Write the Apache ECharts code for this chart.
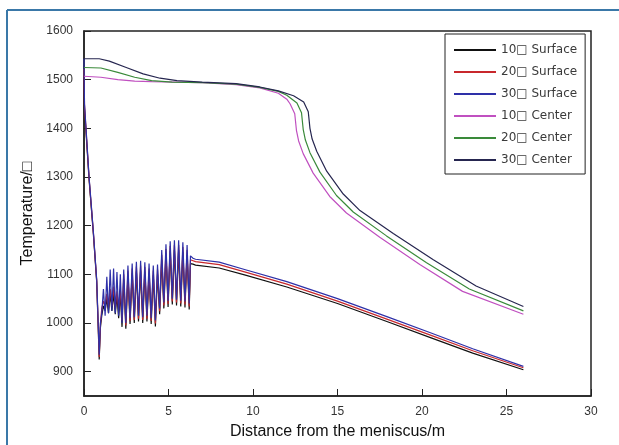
<!DOCTYPE html>
<html>
<head>
<meta charset="utf-8">
<script src="https://cdn.jsdelivr.net/npm/echarts@6/dist/echarts.min.js"></script>
<style>
    html, body { margin: 0; padding: 0; background: #fff; }
    #chart { width: 619px; height: 445px; }
</style>
</head>
<body>
<div id="chart"></div>
<script>
// legend names, same order as the series
const names = ['10\u25A1 Surface', '20\u25A1 Surface', '30\u25A1 Surface', '10\u25A1 Center', '20\u25A1 Center', '30\u25A1 Center']
const xTicks = [0, 5, 10, 15, 20, 25, 30]
const yTicks = [900, 1000, 1100, 1200, 1300, 1400, 1500, 1600]

// surface curves share the same distances
const surfX = [0, 0.03, 0.3, 0.55, 0.75, 0.85, 0.9, 0.97, 1.05,
    1.15, 1.25, 1.35, 1.45, 1.55, 1.65, 1.75, 1.85, 1.95, 2.05, 2.15, 2.25,
    2.35, 2.475, 2.6, 2.725, 2.85, 2.975, 3.1, 3.225, 3.35, 3.475, 3.6, 3.725, 3.85, 3.975, 4.1, 4.225,
    4.35, 4.475, 4.6, 4.725, 4.85, 4.975, 5.1, 5.225, 5.35, 5.475, 5.6, 5.725, 5.85, 5.975, 6.1, 6.225, 6.3,
    6.45, 6.6,
    8, 9.5, 12, 15, 18, 20.5, 23, 26]
const surf10 = [1505, 1440, 1295, 1185, 1085, 980, 925, 990, 1015,
    1035, 1025, 1050, 1020, 1060, 1025, 1060, 1018, 1055, 1010, 1060, 992,
    1090, 988, 1098, 998, 1102, 1000, 1106, 1003, 1108, 1000, 1105, 1003, 1102, 998, 1098, 993,
    1100, 1018, 1130, 1030, 1142, 1033, 1148, 1038, 1150, 1036, 1150, 1034, 1146, 1032, 1140, 1028, 1122,
    1121, 1119,
    1113, 1099, 1074, 1040, 1002, 970, 938, 904]
const surf20 = [1522, 1446, 1298, 1188, 1088, 985, 930, 995, 1030,
    1045, 1035, 1060, 1030, 1070, 1035, 1075, 1030, 1065, 1028, 1070, 1005,
    1100, 995, 1108, 1004, 1112, 1006, 1116, 1009, 1118, 1006, 1115, 1009, 1112, 1004, 1108, 999,
    1110, 1024, 1140, 1036, 1152, 1039, 1158, 1044, 1160, 1042, 1160, 1040, 1156, 1038, 1150, 1034, 1130,
    1128, 1126,
    1120, 1105, 1080, 1045, 1007, 975, 943, 908]
const surf30 = [1543, 1450, 1300, 1190, 1090, 990, 935, 1000, 1020,
    1070, 1015, 1095, 1020, 1110, 1025, 1112, 1020, 1105, 1015, 1100, 1000,
    1110, 1000, 1118, 1010, 1122, 1012, 1126, 1015, 1128, 1012, 1125, 1015, 1122, 1010, 1118, 1005,
    1120, 1030, 1150, 1042, 1162, 1045, 1168, 1050, 1170, 1048, 1170, 1046, 1166, 1044, 1160, 1040, 1138,
    1133, 1131,
    1125, 1110, 1085, 1050, 1012, 980, 947, 911]

// center curves
const c10X = [0, 1, 2, 3, 4, 7, 9, 10.4, 11.5, 12.0, 12.2, 12.47, 12.57, 12.7, 12.97, 13.56, 14.54, 15.53, 17.5, 19.87, 22.4, 26]
const c10 = [1507, 1505, 1500, 1497, 1496, 1494, 1490, 1483, 1472, 1460, 1450, 1430, 1396, 1374, 1348, 1308, 1260, 1226, 1176, 1120, 1065, 1018]
const c20X = [0, 1, 2, 3, 4, 5.2, 7, 9, 10.4, 11.5, 12.0, 12.6, 12.87, 12.97, 13.1, 13.37, 13.96, 14.94, 15.93, 17.9, 20.27, 22.8, 26]
const c20 = [1525, 1524, 1515, 1505, 1498, 1495, 1494, 1491, 1484, 1476, 1468, 1452, 1432, 1398, 1376, 1350, 1310, 1262, 1228, 1179, 1124, 1070, 1025]
const c30X = [0, 0.9, 1.5, 2.5, 3.5, 4.5, 5.5, 7, 9, 10.4, 11.5, 12.4, 13.0, 13.27, 13.37, 13.5, 13.77, 14.36, 15.34, 16.33, 18.3, 20.67, 23.2, 26]
const c30 = [1543, 1543, 1538, 1525, 1512, 1503, 1498, 1495, 1492, 1485, 1477, 1467, 1454, 1434, 1400, 1378, 1353, 1312, 1265, 1231, 1184, 1130, 1076, 1034]

const colors = ['#111111', '#c8282c', '#2e30a8', '#c050c0', '#3a8a3a', '#262650']

const pairs = (xs, ys) => xs.map((x, i) => [x, ys[i]])
const curves = [
    pairs(surfX, surf10), pairs(surfX, surf20), pairs(surfX, surf30),
    pairs(c10X, c10), pairs(c20X, c20), pairs(c30X, c30)
]

const font = 'Liberation Sans, Arial, sans-serif'

const option = {
    backgroundColor: '#fff',
    animation: false,
    grid: {
        left: 84, right: 28, top: 31, bottom: 43,
        show: true,
        borderColor: '#222',
        borderWidth: 1.5
    },
    legend: {
        data: names,
        orient: 'vertical',
        left: 445,
        top: 34,
        padding: [10, 8, 8, 8],
        itemWidth: 42,
        itemHeight: 14,
        itemGap: 10,
        borderColor: '#222',
        borderWidth: 1,
        backgroundColor: '#fff',
        itemStyle: { color: 'transparent', borderWidth: 0 },
        textStyle: {
            fontFamily: 'DejaVu Sans, sans-serif',
            fontSize: 12,
            color: '#3a3a3a'
        }
    },
    xAxis: {
        type: 'value',
        min: 0,
        max: 30,
        interval: 5,
        name: 'Distance from the meniscus/m',
        nameLocation: 'middle',
        nameGap: 28,
        nameTextStyle: { fontFamily: font, fontSize: 16, color: '#111' },
        axisLine: { lineStyle: { color: '#222', width: 1.5 } },
        axisTick: { inside: true, length: 7, lineStyle: { color: '#222' }, customValues: xTicks },
        axisLabel: { margin: 10, fontFamily: font, fontSize: 12, color: '#333', customValues: xTicks },
        splitLine: { show: false }
    },
    yAxis: {
        type: 'value',
        min: 850,
        max: 1600,
        interval: 50,
        name: 'Temperature/\u25A1',
        nameLocation: 'middle',
        nameGap: 43,
        nameTextStyle: { fontFamily: font, fontSize: 16, color: '#111' },
        axisLine: { show: true, lineStyle: { color: '#222', width: 1.5 } },
        axisTick: { show: true, inside: true, length: 7, lineStyle: { color: '#222' }, customValues: yTicks },
        axisLabel: {
            margin: 11, fontFamily: font, fontSize: 12, color: '#333', customValues: yTicks,
            formatter: v => String(v)
        },
        splitLine: { show: false }
    },
    graphic: [
        { type: 'line', shape: { x1: 7, y1: 10, x2: 619, y2: 10 }, style: { stroke: '#3a78a8', lineWidth: 2 } },
        { type: 'line', shape: { x1: 7, y1: 10, x2: 7, y2: 445 }, style: { stroke: '#3a78a8', lineWidth: 2 } }
    ],
    series: names.map((n, i) => ({
        name: n,
        type: 'line',
        data: curves[i],
        symbol: 'none',
        showSymbol: false,
        color: colors[i],
        lineStyle: { width: 1.2, color: colors[i] }
    }))
}

const chart = echarts.init(document.getElementById('chart'))
chart.setOption(option)
</script>
</body>
</html>
